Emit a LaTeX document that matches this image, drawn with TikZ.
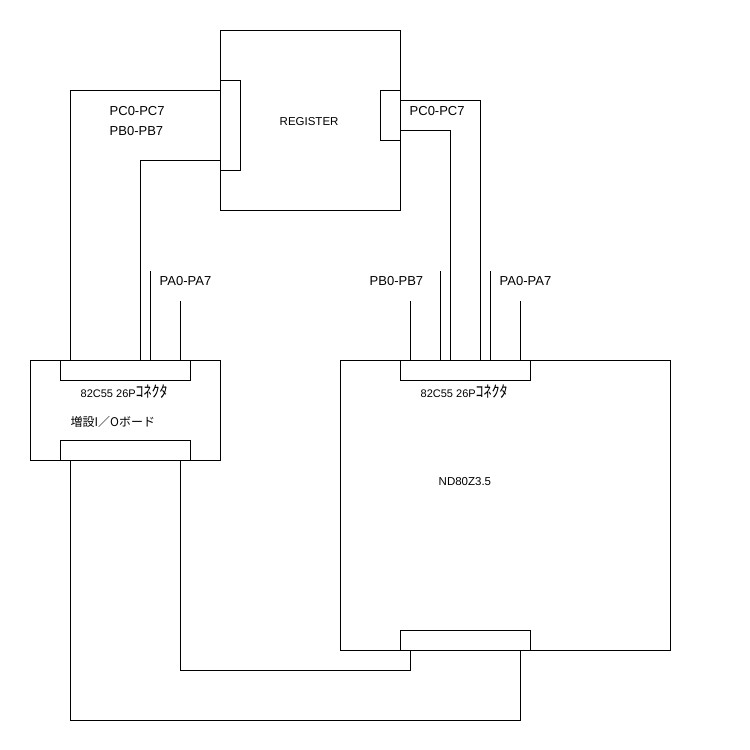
\documentclass[tikz,border=0pt]{standalone}
\usepackage{fontspec}
\setmainfont{Liberation Sans}
\newfontfamily\jpfont{Noto Sans CJK JP}
\tikzset{
    unitbox/.style={draw, line width=1pt, inner sep=0pt, outer sep=0pt, anchor=north west, minimum width=#1},
    wire/.style={line width=1pt},
    lbl/.style={font=\fontsize{11.5}{14}\selectfont, right, inner sep=0pt},
    pinlbl/.style={lbl, font=\fontsize{13}{15}\selectfont},
    conlbl/.style={lbl, font=\fontsize{11}{13}\selectfont}
}
\begin{document}
\begin{tikzpicture}[x=1pt, y=-1pt]
    \useasboundingbox (-0.5,-0.5) rectangle (749.5,749.5);

    % Register board
    \node[unitbox=180pt, minimum height=180pt] (reg) at (220,30) {};
    \node[unitbox=20pt, minimum height=90pt] (regleft) at (220,80) {};
    \node[unitbox=20pt, minimum height=50pt] (regright) at (380,90) {};

    % I/O board
    \node[unitbox=190pt, minimum height=100pt] (io) at (30,360) {};
    \node[unitbox=130pt, minimum height=20pt] (iotop) at (60,360) {};
    \node[unitbox=130pt, minimum height=20pt] (iobot) at (60,440) {};

    % ND80Z3.5 board
    \node[unitbox=330pt, minimum height=290pt] (nd) at (340,360) {};
    \node[unitbox=130pt, minimum height=20pt] (ndtop) at (400,360) {};
    \node[unitbox=130pt, minimum height=20pt] (ndbot) at (400,630) {};

    % Free ends of the short wires
    \coordinate (ioA) at (150,270);
    \coordinate (ioB) at (180,300);
    \coordinate (ndA) at (410,300);
    \coordinate (ndB) at (440,270);
    \coordinate (ndC) at (490,270);
    \coordinate (ndD) at (520,300);
    \coordinate (lowA) at (70,720);
    \coordinate (lowB) at (180,670);

    % Register to I/O board
    \draw[wire] ([xshift=10pt]iotop.north west) |- ([yshift=-10pt]regleft.north west);
    \draw[wire] ([xshift=80pt]iotop.north west) |- ([yshift=-80pt]regleft.north west);
    \draw[wire] ([xshift=90pt]iotop.north west) -- (ioA);
    \draw[wire] ([xshift=120pt]iotop.north west) -- (ioB);

    % Register to ND80Z3.5
    \draw[wire] ([yshift=-10pt]regright.north east) -| ([xshift=80pt]ndtop.north west);
    \draw[wire] ([yshift=-40pt]regright.north east) -| ([xshift=50pt]ndtop.north west);
    \draw[wire] ([xshift=10pt]ndtop.north west) -- (ndA);
    \draw[wire] ([xshift=40pt]ndtop.north west) -- (ndB);
    \draw[wire] ([xshift=90pt]ndtop.north west) -- (ndC);
    \draw[wire] ([xshift=120pt]ndtop.north west) -- (ndD);

    % I/O board to ND80Z3.5
    \draw[wire] ([xshift=10pt]iobot.south west) |- (lowA) -| ([xshift=120pt]ndbot.south west);
    \draw[wire] ([xshift=120pt]iobot.south west) |- (lowB) -| ([xshift=10pt]ndbot.south west);

    % Labels
    \node[lbl] (regname) at (279,121) {REGISTER};
    \node[pinlbl] (lblpc) at (109,111) {PC0-PC7};
    \node[pinlbl] (lblpb) at (109,131) {PB0-PB7};
    \node[pinlbl] (lblpcr) at (409,111) {PC0-PC7};
    \node[pinlbl] (lblpa) at (159,281) {PA0-PA7};
    \node[pinlbl] (lblpbn) at (369,281) {PB0-PB7};
    \node[pinlbl] (lblpan) at (499,281) {PA0-PA7};
    \node[conlbl] (lblcon) at (80,391) {82C55 26P{\jpfont\fontsize{16}{16}\selectfont ｺﾈｸﾀ}};
    \node[conlbl] (lblconn) at (420,391) {82C55 26P{\jpfont\fontsize{16}{16}\selectfont ｺﾈｸﾀ}};
    \node[lbl, font=\fontsize{12}{14}\selectfont] (ioname) at (70,421) {{\jpfont 増設I／Oボード}};
    \node[lbl] (ndname) at (438,481) {ND80Z3.5};
\end{tikzpicture}
\end{document}
